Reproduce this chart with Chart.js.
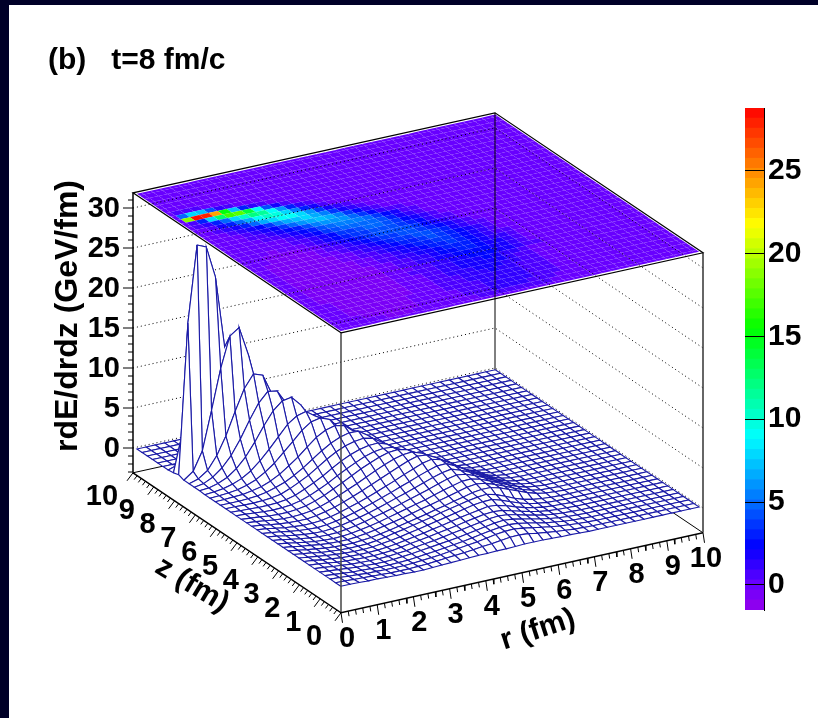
<!DOCTYPE html>
<html>
<head>
<meta charset="utf-8">
<style>
  html, body { margin: 0; padding: 0; background: #000028; overflow: hidden; }
  #page { position: absolute; left: 9px; top: 5px; width: 809px; height: 713px; background: #fff; }
  canvas { position: absolute; }
  #surfaceChart { left: 0; top: 0; }
  #barChart { left: 740px; top: 86px; }
</style>
<script src="https://cdn.jsdelivr.net/npm/chart.js@4"></script>
</head>
<body>
<div id="page"></div>
<canvas id="surfaceChart" width="818" height="718"></canvas>
<canvas id="barChart" width="78" height="546"></canvas>
<script>
const rBins = [.05,.304,.558,.812,1.065,1.319,1.573,1.827,2.081,2.335,2.588,2.842,3.096,3.35,3.604,3.858,4.112,4.365,4.619,4.873,
  5.127,5.381,5.635,5.888,6.142,6.396,6.65,6.904,7.158,7.412,7.665,7.919,8.173,8.427,8.681,8.935,9.188,9.442,9.696,9.95];
const zBins = [.1,.351,.603,.854,1.105,1.356,1.608,1.859,2.11,2.362,2.613,2.864,3.115,3.367,3.618,3.869,4.121,4.372,4.623,4.874,
  5.126,5.377,5.628,5.879,6.131,6.382,6.633,6.885,7.136,7.387,7.638,7.89,8.141,8.392,8.644,8.895,9.146,9.397,9.649,9.9];

// rdE/drdz, one row per z bin, bins past the end of a row are empty
const surfaceRows = [
  [0,0,-.05,-.1,-.1,-.15,-.2,-.2,-.25,-.25,-.2,-.15,-.1,-.05,0,.05,.05,.1,.1,.15,.2,.2,.2,.15,.1,.1,.05],
  [0,-.05,-.1,-.15,-.2,-.25,-.3,-.3,-.3,-.25,-.2,-.1,0,.1,.2,.3,.45,.55,.7,.85,.9,.8,.6,.45,.3,.2,.1,.05],
  [0,-.05,-.15,-.2,-.3,-.3,-.35,-.35,-.35,-.3,-.2,-.1,0,.15,.3,.45,.6,.8,1,1.15,1.2,1.05,.85,.65,.45,.3,.2,.1,.05],
  [0,-.1,-.2,-.3,-.35,-.4,-.45,-.45,-.4,-.35,-.25,-.1,0,.15,.3,.45,.65,.85,1.05,1.2,1.3,1.2,1,.75,.5,.35,.2,.1,.05],
  [0,-.1,-.2,-.3,-.4,-.45,-.5,-.5,-.45,-.35,-.25,-.1,.05,.2,.35,.5,.7,.9,1.1,1.3,1.4,1.3,1.05,.8,.55,.35,.2,.1,.05],
  [0,-.1,-.25,-.35,-.45,-.5,-.55,-.55,-.5,-.4,-.3,-.1,.05,.2,.4,.6,.8,1,1.2,1.4,1.5,1.4,1.15,.85,.6,.35,.2,.1,.05],
  [0,-.1,-.25,-.4,-.5,-.55,-.6,-.6,-.55,-.45,-.3,-.1,.05,.25,.45,.65,.85,1.1,1.3,1.5,1.6,1.5,1.2,.9,.6,.35,.2,.1,.05],
  [0,-.1,-.3,-.4,-.55,-.6,-.65,-.65,-.6,-.5,-.35,-.15,.05,.25,.5,.7,.95,1.2,1.4,1.6,1.8,1.7,1.4,1,.65,.4,.2,.1,.05],
  [0,-.15,-.3,-.45,-.55,-.65,-.7,-.7,-.65,-.5,-.35,-.15,.1,.3,.55,.8,1.05,1.3,1.55,1.8,1.95,2,1.65,1.2,.8,.45,.25,.1,.05],
  [0,-.15,-.3,-.5,-.6,-.7,-.75,-.75,-.7,-.55,-.35,-.1,.1,.35,.6,.85,1.15,1.4,1.65,1.9,2.1,2.2,1.9,1.45,.95,.55,.3,.15,.05],
  [0,-.15,-.35,-.5,-.65,-.75,-.8,-.8,-.7,-.6,-.4,-.2,.05,.3,.55,.8,1.1,1.35,1.65,1.9,2.2,2.35,2.35,2.05,1.6,1.15,.7,.35,.15,.05],
  [0,-.15,-.35,-.5,-.65,-.75,-.8,-.8,-.7,-.55,-.35,-.1,.15,.4,.7,1,1.25,1.55,1.85,2.15,2.45,2.6,2.45,2.05,1.6,1.1,.65,.3,.1,.05],
  [0,-.15,-.35,-.55,-.7,-.8,-.85,-.8,-.7,-.5,-.3,-.05,.25,.55,.85,1.15,1.45,1.8,2.15,2.45,2.75,2.8,2.5,2.05,1.55,1.05,.6,.25,.1],
  [0,-.15,-.35,-.55,-.7,-.8,-.85,-.8,-.65,-.45,-.2,.1,.4,.7,1.05,1.4,1.75,2.1,2.5,2.85,3.1,2.95,2.5,2,1.45,.95,.5,.2,.05],
  [0,-.15,-.35,-.55,-.7,-.8,-.85,-.75,-.6,-.35,-.1,.2,.55,.9,1.3,1.65,2.05,2.45,2.85,3.2,3.4,3,2.5,1.9,1.35,.85,.4,.15,.05],
  [0,-.15,-.3,-.5,-.65,-.75,-.8,-.7,-.5,-.25,.05,.4,.75,1.15,1.55,2,2.4,2.85,3.25,3.6,3.65,3.1,2.45,1.8,1.2,.7,.3,.1],
  [0,-.1,-.3,-.5,-.6,-.7,-.7,-.6,-.4,-.1,.25,.6,1,1.45,1.9,2.35,2.85,3.3,3.75,4,3.7,3.05,2.3,1.6,1,.5,.2,.05],
  [0,-.1,-.3,-.45,-.55,-.6,-.6,-.45,-.2,.1,.5,.95,1.4,1.9,2.4,2.9,3.4,3.85,4.2,4.1,3.55,2.8,2.05,1.35,.75,.35,.1],
  [0,-.1,-.25,-.4,-.5,-.5,-.45,-.3,0,.4,.85,1.35,1.85,2.4,2.95,3.45,3.9,4.2,4.3,3.9,3.2,2.4,1.65,1,.5,.2,.05],
  [0,-.1,-.2,-.35,-.4,-.4,-.3,-.1,.25,.7,1.25,1.8,2.4,3,3.5,3.95,4.3,4.4,4.15,3.5,2.7,1.9,1.2,.65,.3,.1],
  [0,-.05,-.15,-.25,-.3,-.25,-.15,.1,.5,1,1.55,2.2,2.8,3.35,3.85,4.2,4.35,4.25,3.7,2.95,2.15,1.4,.75,.4,.15,.05],
  [0,-.05,-.1,-.15,-.15,-.1,.05,.35,.85,1.4,2,2.7,3.35,3.9,4.3,4.55,4.6,4.2,3.4,2.55,1.7,1,.5,.2,.05],
  [0,0,-.05,-.05,0,.1,.3,.75,1.3,1.9,2.65,3.4,4.05,4.55,4.85,5,4.75,4,3.05,2.1,1.3,.7,.3,.1],
  [0,0,0,.05,.15,.35,.7,1.1,1.7,2.4,3.2,4,4.7,5.2,5.5,5.45,4.7,3.6,2.5,1.55,.85,.4,.15,.05],
  [0,.02,.1,.15,.35,.6,1.05,1.65,2.45,3.3,4.3,5.25,5.9,6.2,6,5.05,3.75,2.5,1.5,.8,.35,.1,.05],
  [0,.05,.15,.3,.6,1.05,1.75,2.6,3.7,4.8,5.95,6.75,7,6.55,5.3,3.85,2.5,1.4,.7,.3,.1,.03],
  [0,.1,.25,.55,1,1.7,2.7,3.9,5.2,6.5,7.3,7.6,6.8,5.2,3.6,2.1,1.1,.5,.2,.05],
  [.05,.15,.45,.95,1.8,3,4.6,6.4,8,9,9.2,8,5.9,3.8,2.1,1,.4,.15,.05],
  [.05,.25,.8,1.7,3,4.8,6.9,8.8,10,9.8,8,5.5,3.2,1.6,.7,.25,.1],
  [.05,.4,1.2,2.8,5,7.8,10.4,12,11.6,9,5.8,3,1.3,.5,.15,.05],
  [.05,.9,3.2,8,13,16.8,17.6,14,9,4.5,1.9,.7,.2,.05],
  [.3,19,28.5,28,24,15,7,3,1,.4,.1],
  [.1,5,8,7,4,1.5,.6,.2,.05],
  [.02,.4,.8,.6,.3,.1,.02],
  [], [], [], [], [], []
];

const heightTicks = [0,5,10,15,20,25,30];
const rTicks = [0,1,2,3,4,5,6,7,8,9,10];
const zTicks = [0,1,2,3,4,5,6,7,8,9,10];
const barTicks = [0,5,10,15,20,25];
const barRange = [-1.51, 28.77];
const paletteStops = [-1.51,0,2.3,5,8.9,15.4,21.7,28.77];
const paletteColors = [[150,0,235],[104,0,255],[0,0,255],[0,110,255],[0,255,255],[0,255,0],[255,255,0],[255,0,0]];

const FLOOR = -3.1, ROOF = 31.9, LEVELS = 50;
const MESH = '#1a1aa6';
const FONT = 'bold 29px "Liberation Sans"';

// 3D box to page pixels (x and y scales run in pixels)
function project(r, z, h) {
  return { x: 341 + 36.2 * r - 20.8 * z, y: 588 - 8 * r - 14 * z - 8 * h };
}
function val(j, i) {
  const v = surfaceRows[j][i];
  return v === undefined ? 0 : v;
}
function levelColor(v) {
  const step = (barRange[1] - barRange[0]) / LEVELS;
  let n = Math.floor((v - barRange[0]) / step);
  n = Math.max(0, Math.min(LEVELS - 1, n));
  const mid = barRange[0] + (n + 0.5) * step;
  let k = 0;
  while (k < paletteStops.length - 2 && mid > paletteStops[k + 1]) k++;
  const t = (mid - paletteStops[k]) / (paletteStops[k + 1] - paletteStops[k]);
  const c = paletteColors[k].map((a, m) => Math.round(a + (paletteColors[k + 1][m] - a) * t));
  return `rgb(${c[0]},${c[1]},${c[2]})`;
}
function gap() { return { x: NaN, y: NaN }; }
function strokes(data, color, width, dash) {
  return { data, showLine: true, pointRadius: 0, borderColor: color, borderWidth: width, borderDash: dash || [], fill: false, tension: 0 };
}
function polygon(points, fillColor, lineColor) {
  return {
    data: points,
    showLine: true, pointRadius: 0, tension: 0, fill: 'shape',
    backgroundColor: fillColor,
    borderColor: lineColor || 'transparent',
    borderWidth: lineColor ? 1.1 : 0
  };
}
// edges of the colour cell around bin n
function edges(bins, n) {
  const lo = n === 0 ? bins[0] : (bins[n - 1] + bins[n]) / 2;
  const hi = n === bins.length - 1 ? bins[n] : (bins[n] + bins[n + 1]) / 2;
  return [lo, hi];
}

// paint order, back to front
const layers = [];

// colour map on the roof of the box
for (let j = zBins.length - 1; j >= 0; j--) {
  for (let i = rBins.length - 1; i >= 0; i--) {
    const [r0, r1] = edges(rBins, i);
    const [z0, z1] = edges(zBins, j);
    layers.push(polygon([project(r0,z0,ROOF), project(r1,z0,ROOF), project(r1,z1,ROOF), project(r0,z1,ROOF), project(r0,z0,ROOF)], levelColor(val(j, i))));
  }
}

// dotted grid on the two back walls
const wallGrid = [];
heightTicks.forEach(h => {
  wallGrid.push(project(0, 10, h), project(10, 10, h), project(10, 0, h), gap());
});
layers.push(strokes(wallGrid, '#000', 1, [1, 3]));

// back edges
layers.push(strokes([project(0,10,FLOOR), project(10,10,FLOOR), project(10,0,FLOOR)], '#000', 1));
layers.push(strokes([project(10,10,FLOOR), project(10,10,ROOF)], '#000', 1));

// wire mesh, white faces hide what is behind
for (let j = zBins.length - 2; j >= 0; j--) {
  for (let i = rBins.length - 2; i >= 0; i--) {
    const corners = [[i, j], [i + 1, j], [i + 1, j + 1], [i, j + 1], [i, j]];
    layers.push(polygon(corners.map(c => project(rBins[c[0]], zBins[c[1]], val(c[1], c[0]))), '#fff', MESH));
  }
}

// front edges and roof outline
layers.push(strokes([project(0,0,FLOOR), project(0,0,ROOF)], '#444', 1.5));
layers.push(strokes([project(10,0,FLOOR), project(10,0,ROOF)], '#333', 1.5));
layers.push(strokes([project(0,10,FLOOR), project(0,10,ROOF)], '#000', 1.5));
layers.push(strokes([project(0,0,ROOF), project(10,0,ROOF), project(10,10,ROOF), project(0,10,ROOF), project(0,0,ROOF)], '#000', 1.2));
layers.push(strokes([project(0,10,FLOOR), project(0,0,FLOOR), project(10,0,FLOOR)], '#000', 1.5));

// tick marks
const axisMarks = [];
for (let n = 0; n <= 50; n++) {
  const big = n % 5 === 0;
  const a = project(n / 5, 0, FLOOR);
  axisMarks.push(a, { x: a.x + (big ? 1.5 : 0.8), y: a.y + (big ? 10 : 5) }, gap());
  const b = project(0, n / 5, FLOOR);
  axisMarks.push(b, { x: b.x - (big ? 6 : 3), y: b.y + (big ? 8 : 4) }, gap());
}
for (let h = -3; h <= 31; h++) {
  const a = project(0, 10, h);
  axisMarks.push(a, { x: a.x - (h % 5 === 0 ? 10 : 5), y: a.y }, gap());
}
layers.push(strokes(axisMarks, '#000', 1));

const textPlugin = {
  id: 'axisText',
  afterDraw(chart) {
    const { ctx, scales: { x, y } } = chart;
    const put = (txt, px, py, font, angle, align) => {
      ctx.save();
      ctx.translate(x.getPixelForValue(px), y.getPixelForValue(py));
      ctx.rotate((angle || 0) * Math.PI / 180);
      ctx.font = font;
      ctx.fillStyle = '#000';
      ctx.textAlign = align || 'center';
      ctx.textBaseline = 'middle';
      ctx.fillText(txt, 0, 0);
      ctx.restore();
    };
    heightTicks.forEach(h => {
      const p = project(0, 10, h);
      put(String(h), p.x - 13, p.y + 1, FONT, 0, 'right');
    });
    rTicks.forEach(r => {
      const p = project(r, 0, FLOOR);
      put(String(r), p.x + (r === 10 ? 3 : 6), p.y + 26, FONT);
    });
    zTicks.forEach(z => {
      const p = project(0, z, FLOOR);
      put(String(z), p.x - (z === 10 ? 31 : 27), p.y + 24, FONT);
    });
    put('rdE/drdz (GeV/fm)', 68, 316, 'bold 32px "Liberation Sans"', -90);
    put('r (fm)', 538, 630, 'bold 30px "Liberation Sans"', -18);
    put('z (fm)', 192, 585, 'bold 30px "Liberation Sans"', 31);
    put('(b)   t=8 fm/c', 48, 61, 'bold 30px "Liberation Sans"', 0, 'left');
  }
};

new Chart(document.getElementById('surfaceChart'), {
  type: 'scatter',
  data: { datasets: layers.reverse() },
  options: {
    responsive: false,
    animation: false,
    events: [],
    layout: { padding: 0 },
    plugins: { legend: { display: false }, tooltip: { enabled: false } },
    scales: {
      x: { type: 'linear', min: 0, max: 818, display: false },
      y: { type: 'linear', min: 0, max: 718, reverse: true, display: false }
    }
  },
  plugins: [textPlugin]
});

// colour bar
const barSets = [];
for (let n = 0; n < LEVELS; n++) {
  const step = (barRange[1] - barRange[0]) / LEVELS;
  const lo = barRange[0] + n * step;
  barSets.push({ data: [[lo, lo + step]], backgroundColor: levelColor(lo + step / 2), borderWidth: 0, barPercentage: 1, categoryPercentage: 1 });
}
new Chart(document.getElementById('barChart'), {
  type: 'bar',
  data: { labels: ['rdE/drdz'], datasets: barSets },
  options: {
    responsive: false,
    animation: false,
    events: [],
    grouped: false,
    layout: { padding: { left: 5, top: 10, bottom: 10 } },
    plugins: { legend: { display: false }, tooltip: { enabled: false } },
    scales: {
      x: { display: false },
      y: {
        position: 'right',
        min: barRange[0],
        max: barRange[1],
        afterBuildTicks: axis => { axis.ticks = barTicks.map(v => ({ value: v })); },
        afterFit: axis => { axis.width = 54; },
        grid: { color: '#000', z: 1, drawTicks: false, tickLength: 0 },
        border: { color: '#000', z: 2 },
        ticks: { color: '#000', padding: 4, font: { family: 'Liberation Sans', weight: 'bold', size: 30 } }
      }
    }
  }
});
</script>
</body>
</html>
